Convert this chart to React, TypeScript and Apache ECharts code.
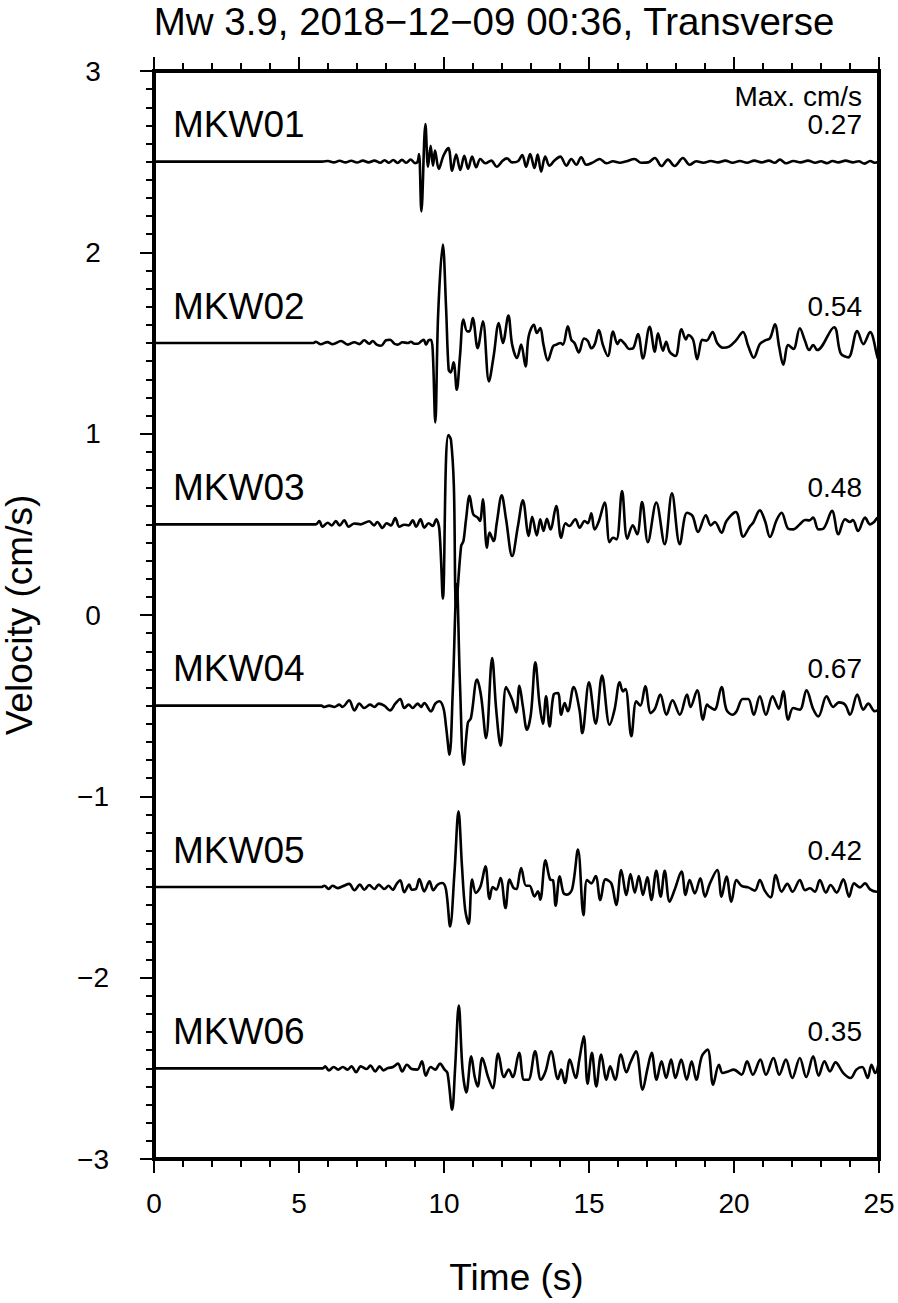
import React, { useEffect, useRef } from "react";
import * as echarts from "echarts";

const TITLE = "Mw 3.9, 2018\u221212\u221209 00:36, Transverse";
const X_NAME = "Time (s)";
const Y_NAME = "Velocity (cm/s)";
const MAX_HEADER = "Max. cm/s";
const STATIONS = ["MKW01", "MKW02", "MKW03", "MKW04", "MKW05", "MKW06"];
const OFFSETS = [2.5, 1.5, 0.5, -0.5, -1.5, -2.5];
const MAX_VALUES = ["0.27", "0.54", "0.48", "0.67", "0.42", "0.35"];

const mkw01: [number, number][] = [
  [0, 0], [5.8, 0], [6.0, 0.004], [6.2, -0.004], [6.4, 0.005], [6.6, -0.004], [6.8, 0.005], [7.0, -0.005],
  [7.2, 0.006], [7.4, -0.004], [7.6, 0.006], [7.8, -0.006], [7.95, 0.008], [8.1, -0.006], [8.25, 0.009],
  [8.4, -0.007], [8.55, 0.01], [8.7, -0.006], [8.85, 0.012], [9.0, -0.008], [9.09, 0], [9.14, 0.042],
  [9.22, -0.274], [9.36, 0.208], [9.45, -0.028], [9.54, 0.088], [9.62, -0.022], [9.69, 0.061], [9.82, -0.04],
  [9.98, 0.033], [10.15, 0.075], [10.28, -0.05], [10.42, 0.039], [10.56, -0.046], [10.7, 0.033], [10.83, -0.039],
  [10.97, 0.028], [11.11, -0.031], [11.25, 0.015], [11.43, -0.009], [11.63, 0.006], [11.82, -0.028], [12.03, 0.006],
  [12.17, 0.018], [12.35, -0.004], [12.55, 0.002], [12.7, 0.037], [12.83, -0.028], [12.97, 0.042], [13.12, -0.035],
  [13.23, 0.039], [13.35, -0.055], [13.49, 0.028], [13.64, -0.022], [13.81, 0.006], [14.01, 0.028], [14.22, -0.022],
  [14.39, 0.015], [14.56, -0.017], [14.73, 0.024], [14.91, -0.017], [15.14, -0.004], [15.37, 0.015], [15.6, -0.009],
  [15.83, 0.002], [16.06, -0.006], [16.29, 0.002], [16.57, 0.015], [16.8, -0.006], [17.04, -0.004], [17.27, 0.02],
  [17.5, -0.024], [17.72, 0.011], [17.95, -0.024], [18.24, 0.02], [18.47, -0.017], [18.7, 0.002], [18.95, -0.006],
  [19.2, 0.004], [19.45, -0.004], [19.7, 0.006], [19.95, -0.006], [20.2, 0.004], [20.45, -0.006], [20.7, 0.006],
  [20.95, -0.004], [21.2, 0.006], [21.4, -0.006], [21.58, 0.011], [21.8, -0.009], [22.05, 0.004], [22.3, -0.004],
  [22.55, 0.006], [22.8, -0.006], [23.0, 0.002], [23.2, -0.008], [23.4, 0.004], [23.6, -0.004], [23.85, 0.006],
  [24.1, -0.004], [24.3, 0.002], [24.5, -0.011], [24.7, 0.004], [24.85, -0.006], [25, 0.002],
];

const mkw02: [number, number][] = [
  [0, 0], [5.5, 0], [5.58, 0.007], [5.75, -0.007], [5.98, 0.005], [6.16, -0.007], [6.45, 0.011], [6.68, -0.009],
  [6.91, 0.004], [7.08, -0.006], [7.25, 0.015], [7.42, -0.004], [7.54, 0.011], [7.68, -0.009], [7.83, -0.015],
  [8.0, 0.015], [8.14, 0.018], [8.29, -0.004], [8.4, -0.009], [8.57, 0.004], [8.75, 0], [8.86, 0.007],
  [8.98, -0.004], [9.1, -0.004], [9.21, 0.009], [9.3, 0.018], [9.38, -0.009], [9.47, 0.015], [9.55, 0.018],
  [9.61, -0.037], [9.7, -0.438], [9.8, 0.166], [9.96, 0.543], [10.07, 0.2], [10.16, -0.147], [10.23, -0.162],
  [10.33, -0.107], [10.44, -0.258], [10.55, -0.074], [10.67, 0.129], [10.8, 0.064], [10.88, 0.064], [10.99, 0.138],
  [11.16, -0.028], [11.34, 0.12], [11.55, -0.212], [11.71, -0.074], [11.89, 0.11], [12.03, 0], [12.22, 0.151],
  [12.35, -0.009], [12.52, -0.083], [12.66, -0.009], [12.81, -0.129], [12.92, 0.037], [13.1, 0.101], [13.2, 0.055],
  [13.32, 0.083], [13.43, -0.009], [13.58, -0.096], [13.76, -0.018], [13.88, -0.009], [14.01, 0], [14.1, -0.009],
  [14.27, 0.092], [14.39, 0.018], [14.5, 0], [14.65, -0.052], [14.83, 0.025], [14.96, 0.011], [15.08, -0.029],
  [15.2, -0.006], [15.34, 0.072], [15.48, -0.011], [15.65, -0.072], [15.83, 0.063], [15.98, -0.006], [16.08, 0.017],
  [16.23, -0.004], [16.38, -0.033], [16.52, -0.029], [16.69, 0.05], [16.86, -0.085], [17.09, 0.09], [17.27, -0.048],
  [17.38, 0.053], [17.55, -0.042], [17.66, 0.007], [17.78, -0.048], [17.98, -0.072], [18.19, 0.076], [18.34, 0.02],
  [18.43, 0.044], [18.59, 0.017], [18.73, -0.09], [18.91, 0.017], [19.05, 0.013], [19.26, 0.061], [19.42, 0],
  [19.62, -0.026], [19.83, -0.02], [20.06, 0.013], [20.31, 0.061], [20.49, -0.017], [20.68, -0.081], [20.89, -0.006],
  [21.06, 0.013], [21.24, 0.026], [21.41, 0.103], [21.56, -0.024], [21.7, -0.12], [21.87, -0.011], [22.05, -0.033],
  [22.27, 0.081], [22.45, 0.011], [22.59, -0.039], [22.73, -0.011], [22.87, -0.039], [23.45, 0.087], [23.68, -0.057],
  [23.94, -0.079], [24.25, 0.066], [24.46, -0.006], [24.69, 0.061], [24.96, -0.085], [25, -0.09],
];

const mkw03: [number, number][] = [
  [0, 0], [5.58, 0], [5.7, 0.018], [5.81, -0.013], [5.99, 0.009], [6.13, -0.006], [6.27, 0.018], [6.4, -0.006],
  [6.56, 0.022], [6.71, -0.013], [6.91, 0.005], [7.13, 0], [7.42, 0.017], [7.59, -0.006], [7.7, 0.013], [7.88, -0.02],
  [8.02, 0.006], [8.17, -0.006], [8.32, 0.035], [8.46, -0.013], [8.63, -0.002], [8.78, -0.006], [8.92, 0.022],
  [9.04, -0.013], [9.19, 0.028], [9.32, -0.018], [9.47, 0.006], [9.61, -0.009], [9.73, 0.028], [9.84, -0.028],
  [9.96, -0.409], [10.07, 0.359], [10.15, 0.492], [10.24, 0.466], [10.34, 0.212], [10.42, -0.45], [10.59, -0.12],
  [10.67, -0.092], [10.76, 0.028], [10.88, 0.157], [11.01, 0.055], [11.16, 0.037], [11.24, 0.018], [11.34, 0.138],
  [11.48, -0.129], [11.57, -0.046], [11.71, -0.092], [11.82, 0.009], [11.99, 0.16], [12.14, 0.028], [12.35, -0.175],
  [12.55, -0.009], [12.72, 0.133], [12.92, -0.064], [13.04, 0.042], [13.2, -0.061], [13.32, 0.028], [13.43, -0.037],
  [13.55, 0.031], [13.67, -0.028], [13.87, 0.101], [14.04, -0.074], [14.19, 0.006], [14.32, -0.009], [14.53, 0.028],
  [14.68, -0.018], [14.85, 0.018], [14.96, 0.006], [15.08, 0.061], [15.19, -0.028], [15.33, 0.013], [15.54, 0.12],
  [15.71, -0.098], [15.83, -0.074], [15.95, -0.083], [16.14, 0.184], [16.32, -0.079], [16.51, -0.006], [16.66, -0.055],
  [16.83, 0.123], [17.03, -0.098], [17.32, 0.12], [17.61, -0.11], [17.86, 0.171], [18.13, -0.11], [18.38, 0.064],
  [18.57, 0.046], [18.76, -0.042], [19.03, 0.05], [19.2, -0.006], [19.34, 0.013], [19.57, -0.046], [19.74, 0.018],
  [20.06, 0.068], [20.32, -0.068], [20.54, -0.013], [20.66, 0.009], [20.89, 0.077], [21.07, 0.018], [21.24, -0.07],
  [21.47, 0.024], [21.64, 0.064], [21.87, -0.024], [22.04, -0.028], [22.27, 0], [22.45, 0.024], [22.6, 0.022],
  [22.73, 0.037], [22.91, -0.028], [23.08, -0.024], [23.38, 0.074], [23.6, -0.055], [23.83, 0.028], [24.0, 0.013],
  [24.1, 0.024], [24.28, -0.037], [24.52, 0.037], [24.69, 0], [24.83, 0.013], [24.96, 0.037], [25, 0.03],
];

const mkw04: [number, number][] = [
  [0, 0], [5.77, 0], [5.87, -0.007], [6.04, 0], [6.22, -0.007], [6.39, 0.006], [6.5, -0.007], [6.73, 0.029],
  [6.91, -0.026], [7.08, 0.011], [7.25, -0.013], [7.45, 0.006], [7.6, -0.007], [7.75, 0.011], [7.94, 0],
  [8.14, -0.026], [8.32, 0.011], [8.49, 0.037], [8.63, -0.013], [8.78, 0.006], [8.92, -0.013], [9.09, 0.011],
  [9.21, -0.007], [9.32, 0.015], [9.55, -0.031], [9.7, 0.011], [9.84, 0.024], [9.98, -0.013], [10.07, -0.114],
  [10.19, -0.271], [10.3, 0.07], [10.44, 0.67], [10.55, 0.125], [10.68, -0.326], [10.82, -0.096], [10.93, -0.068],
  [11.14, 0.144], [11.28, 0.052], [11.45, -0.179], [11.66, 0.263], [11.8, -0.022], [11.95, -0.221], [12.14, 0.103],
  [12.25, 0.07], [12.35, 0.033], [12.49, -0.037], [12.6, 0.11], [12.72, -0.004], [12.86, -0.133], [13.0, -0.041],
  [13.15, 0.239], [13.29, 0.015], [13.41, -0.099], [13.52, 0.052], [13.64, -0.114], [13.78, 0.061], [13.93, 0.07],
  [14.04, -0.05], [14.16, 0.015], [14.27, -0.031], [14.47, 0.103], [14.67, -0.022], [14.77, -0.151], [15.0, 0.129],
  [15.23, -0.099], [15.45, 0.166], [15.71, -0.105], [15.88, -0.022], [16.06, 0.129], [16.17, 0.079], [16.26, 0.092],
  [16.46, -0.169], [16.63, 0.024], [16.77, 0], [16.94, 0.107], [17.13, -0.041], [17.27, -0.018], [17.46, 0.061],
  [17.67, -0.05], [17.88, 0.03], [18.13, -0.05], [18.38, 0.061], [18.5, -0.007], [18.73, 0.085], [18.93, -0.077],
  [19.07, 0.006], [19.16, -0.007], [19.33, -0.022], [19.57, 0.103], [19.74, -0.022], [19.95, -0.05], [20.09, -0.031],
  [20.3, 0.037], [20.49, 0.037], [20.68, -0.05], [20.89, 0.052], [21.1, -0.05], [21.33, 0.052], [21.47, 0.006],
  [21.55, -0.018], [21.7, 0.079], [21.87, -0.077], [22.04, -0.013], [22.27, -0.022], [22.5, 0.085], [22.73, -0.018],
  [22.91, -0.059], [23.19, 0.052], [23.42, -0.007], [23.62, 0.018], [23.83, 0.006], [24.0, -0.05], [24.25, 0.061],
  [24.46, -0.022], [24.63, 0.011], [24.86, -0.031], [25, -0.022],
];

const mkw05: [number, number][] = [
  [0, 0], [5.77, 0], [5.88, 0.007], [6.02, -0.011], [6.16, 0.007], [6.33, -0.006], [6.51, 0.004], [6.73, 0.017],
  [6.91, -0.018], [7.1, 0.013], [7.25, -0.015], [7.42, 0.011], [7.6, -0.011], [7.75, 0.013], [7.94, -0.011],
  [8.09, 0.007], [8.23, -0.015], [8.37, 0.018], [8.49, 0.037], [8.63, -0.029], [8.8, 0.013], [8.89, -0.015],
  [9.03, -0.011], [9.15, 0.044], [9.32, -0.024], [9.5, 0.031], [9.63, -0.018], [9.78, 0.013], [9.94, 0.022],
  [10.07, -0.015], [10.21, -0.217], [10.36, 0.077], [10.5, 0.418], [10.62, 0.114], [10.73, -0.125], [10.85, -0.203],
  [10.97, 0.041], [11.1, -0.033], [11.26, 0.004], [11.43, 0.114], [11.57, -0.066], [11.68, 0], [11.8, -0.015],
  [11.95, 0.05], [12.12, -0.116], [12.26, 0.041], [12.4, -0.006], [12.49, -0.011], [12.66, 0.105], [12.83, 0.007],
  [12.95, 0.007], [13.12, -0.052], [13.24, -0.024], [13.32, -0.07], [13.5, 0.147], [13.66, 0.041], [13.76, 0.037],
  [13.85, -0.103], [13.99, 0.059], [14.12, -0.033], [14.24, -0.042], [14.42, -0.011], [14.62, 0.206], [14.81, -0.155],
  [14.93, 0.039], [15.08, 0.02], [15.23, 0.061], [15.39, -0.072], [15.57, 0.042], [15.77, 0.02], [15.94, -0.099],
  [16.11, 0.094], [16.29, -0.044], [16.43, 0.072], [16.58, -0.031], [16.72, 0.061], [16.86, -0.044], [17.01, 0.053],
  [17.15, -0.072], [17.32, 0.09], [17.47, -0.053], [17.61, 0.09], [17.78, -0.081], [17.95, -0.017], [18.19, 0.085],
  [18.33, -0.044], [18.47, 0.039], [18.65, -0.035], [18.84, 0.048], [19.0, -0.053], [19.17, 0.02], [19.42, 0.094],
  [19.57, -0.053], [19.74, 0.057], [19.91, -0.081], [20.09, 0.039], [20.26, 0.006], [20.49, -0.002], [20.72, -0.02],
  [20.89, 0.039], [21.06, -0.02], [21.26, -0.057], [21.44, 0.066], [21.64, -0.026], [21.84, 0.017], [22.02, -0.026],
  [22.27, 0.039], [22.45, -0.017], [22.62, -0.007], [22.79, -0.026], [22.96, 0.039], [23.17, -0.031], [23.33, 0.011],
  [23.54, -0.031], [23.77, 0.042], [23.97, -0.053], [24.14, 0.02], [24.34, -0.002], [24.52, 0.02], [24.69, -0.013],
  [24.92, -0.026], [25, -0.02],
];

const mkw06: [number, number][] = [
  [0, 0], [5.83, 0], [5.9, 0.011], [6.03, -0.011], [6.2, 0.007], [6.35, -0.007], [6.51, 0.007], [6.68, -0.007],
  [6.81, 0.011], [6.97, -0.022], [7.13, 0.011], [7.33, -0.004], [7.46, 0.015], [7.63, -0.017], [7.78, 0.011],
  [7.91, -0.011], [8.07, 0.002], [8.24, 0.007], [8.41, 0.026], [8.56, -0.017], [8.72, 0.02], [8.89, -0.004],
  [9.08, -0.007], [9.24, 0.039], [9.37, -0.04], [9.54, 0.007], [9.7, -0.007], [9.86, 0.026], [10.02, -0.007],
  [10.12, -0.026], [10.28, -0.228], [10.38, -0.007], [10.51, 0.346], [10.64, -0.007], [10.77, -0.133], [10.94, 0.066],
  [11.06, -0.048], [11.16, -0.1], [11.32, 0.057], [11.52, -0.048], [11.68, -0.109], [11.87, 0.081], [12.07, -0.048],
  [12.23, -0.007], [12.37, -0.048], [12.59, 0.085], [12.76, -0.063], [12.91, -0.063], [13.14, 0.094], [13.34, -0.063],
  [13.5, -0.017], [13.69, 0.094], [13.93, -0.059], [14.04, -0.007], [14.17, -0.081], [14.34, 0.048], [14.54, -0.053],
  [14.67, 0.052], [14.82, 0.177], [14.95, -0.085], [15.1, 0.085], [15.25, -0.1], [15.42, 0.076], [15.6, -0.063],
  [15.73, 0.011], [15.9, -0.063], [16.1, 0.076], [16.29, -0.022], [16.42, 0.029], [16.62, 0.094], [16.85, -0.118],
  [17.01, -0.007], [17.16, 0.085], [17.33, -0.063], [17.5, 0.039], [17.66, -0.053], [17.83, 0.048], [17.98, -0.053],
  [18.18, 0.048], [18.37, -0.063], [18.54, 0.039], [18.7, -0.063], [18.89, 0.066], [19.09, 0.103], [19.28, -0.09],
  [19.48, 0.02], [19.61, -0.026], [19.8, -0.017], [19.99, -0.007], [20.26, -0.035], [20.45, 0.039], [20.65, -0.035],
  [20.91, 0.048], [21.1, -0.035], [21.36, 0.057], [21.56, -0.035], [21.79, 0.048], [22.01, -0.053], [22.27, 0.057],
  [22.49, -0.048], [22.73, 0.066], [22.92, -0.04], [23.12, 0.039], [23.31, -0.017], [23.5, 0.033], [23.77, -0.026],
  [24.02, -0.053], [24.22, -0.007], [24.42, 0.007], [24.61, -0.053], [24.74, 0.02], [24.87, -0.026], [25, 0.039],
];

const TRACES = [mkw01, mkw02, mkw03, mkw04, mkw05, mkw06];

const FONT = '"Liberation Sans", Arial, Helvetica, sans-serif';

export default function App() {
  const ref = useRef<HTMLDivElement>(null);
  useEffect(() => {
    if (!ref.current) return;
    const chart = echarts.init(ref.current, null, { renderer: "svg" });
    const major = { show: true, length: 14, lineStyle: { color: "#000", width: 2 } };
    const minor = (n: number) => ({ show: true, splitNumber: n, length: 8, lineStyle: { color: "#000", width: 2 } });
    const noLine = { show: false, onZero: false };
    const fmtMinus = (v: number) => String(v).replace("-", "\u2212");
    chart.setOption({
      animation: false,
      backgroundColor: "#fff",
      textStyle: { fontFamily: FONT, color: "#000" },
      grid: {
        left: 154, right: 19, top: 71, bottom: 144,
        containLabel: false, outerBoundsMode: "none",
        show: true, borderColor: "#000", borderWidth: 4, backgroundColor: "transparent",
      },
      xAxis: [
        {
          type: "value", min: 0, max: 25, interval: 5, position: "bottom",
          axisLine: noLine, axisTick: major, minorTick: minor(5), splitLine: { show: false },
          axisLabel: { color: "#000", fontSize: 28, fontFamily: FONT, margin: 30 },
          name: X_NAME, nameLocation: "middle", nameGap: 100,
          nameTextStyle: { fontSize: 37, fontFamily: FONT, color: "#000" },
        },
        {
          type: "value", min: 0, max: 25, interval: 5, position: "top",
          axisLine: noLine, axisTick: major, minorTick: minor(5), splitLine: { show: false },
          axisLabel: { show: false },
        },
      ],
      yAxis: [
        {
          type: "value", min: -3, max: 3, interval: 1, position: "left",
          axisLine: noLine, axisTick: major, minorTick: minor(10), splitLine: { show: false },
          axisLabel: { color: "#000", fontSize: 28, fontFamily: FONT, margin: 61, align: "center", formatter: fmtMinus },
          name: Y_NAME, nameLocation: "middle", nameGap: 116,
          nameTextStyle: { fontSize: 37, fontFamily: FONT, color: "#000" },
        },
      ],
      series: TRACES.map((tr, i) => ({
        type: "line",
        name: STATIONS[i],
        xAxisIndex: 0,
        yAxisIndex: 0,
        data: tr.map(([t, v]) => [t, v + OFFSETS[i]]),
        showSymbol: false,
        smooth: 0.35,
        lineStyle: { color: "#000", width: 2.6 },
        z: 3,
      })),
    });

    const gfx: any[] = [];
    const txt = (x: number, y: number, text: string, size: number, align: string) => ({
      type: "text", x, y, z: 10,
      style: {
        text, fill: "#000", font: `${size}px ${FONT}`,
        textAlign: align, textVerticalAlign: "middle", align, verticalAlign: "middle",
      },
    });
    gfx.push(txt(494, 21, TITLE, 38.5, "center"));
    const left = chart.convertToPixel({ xAxisIndex: 0 }, 0) as number;
    const right = chart.convertToPixel({ xAxisIndex: 0 }, 25) as number;
    OFFSETS.forEach((off, i) => {
      const yb = chart.convertToPixel({ yAxisIndex: 0 }, off) as number;
      gfx.push(txt(left + 19, yb - 37, STATIONS[i], 37, "left"));
      gfx.push(txt(right - 17, yb - 37, MAX_VALUES[i], 28, "right"));
      if (i === 0) gfx.push(txt(right - 17, yb - 65, MAX_HEADER, 28, "right"));
    });
    chart.setOption({ graphic: gfx });

    return () => chart.dispose();
  }, []);
  return (
    <div
      ref={ref}
      style={{ position: "absolute", left: 0, top: 0, width: 898, height: 1303, background: "#fff" }}
    />
  );
}
